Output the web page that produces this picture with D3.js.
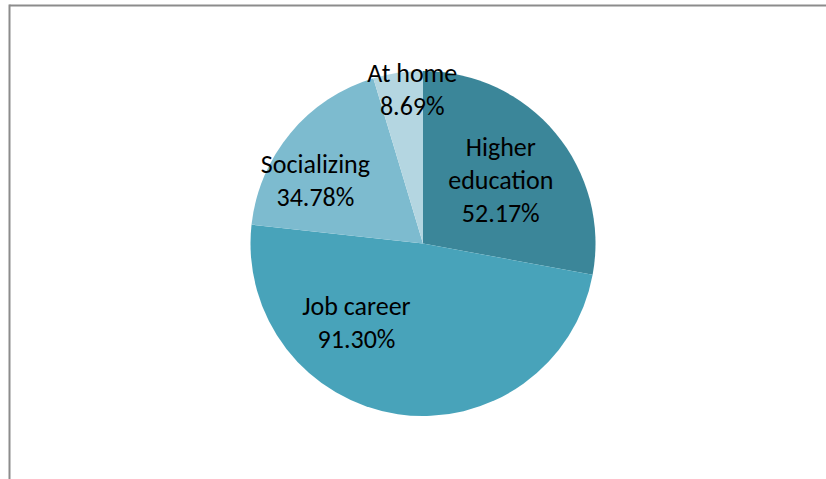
<!DOCTYPE html>
<html>
<head>
<meta charset="utf-8">
<script src="https://cdn.jsdelivr.net/npm/d3@7/dist/d3.min.js"></script>
<style>
  html, body { margin: 0; padding: 0; background: #fff; }
  svg { display: block; }
  text { font-family: Carlito, Calibri, Lato, "Open Sans", sans-serif; }
</style>
</head>
<body>
<svg id="chart" width="826" height="479"></svg>
<script>
// Share of respondents choosing each life goal
const categories = ["Higher education", "Job career", "Socializing", "At home"];
const values = [52.17, 91.30, 34.78, 8.69];
const labelLines = [["Higher", "education"], ["Job career"], ["Socializing"], ["At home"]];
const colors = ["#3b8699", "#48a3ba", "#7dbbcf", "#b4d6e1"];

// Label anchors (angle in degrees clockwise from 12 o'clock, distance as share of radius)
const labelAnchor = [
  { angle: 51, dist: 0.58 },
  { angle: 220, dist: 0.6 },
  { angle: 300, dist: 0.72 },
  { angle: 356, dist: 0.89 }
];

const width = 826, height = 479;
const cx = 423, cy = 243.5, radius = 172.5;

const svg = d3.select("#chart");

// Frame lines along the top and left edges
svg.append("line").attr("x1", 9.5).attr("x2", 826).attr("y1", 5.5).attr("y2", 5.5)
  .attr("stroke", "#8c8c8c").attr("stroke-width", 2);
svg.append("line").attr("x1", 9.5).attr("x2", 9.5).attr("y1", 4.5).attr("y2", height)
  .attr("stroke", "#8c8c8c").attr("stroke-width", 2);

const data = categories.map((c, i) => ({ category: c, value: values[i], index: i }));

const pie = d3.pie().value(d => d.value).sort(null);
const arc = d3.arc().innerRadius(0).outerRadius(radius);
const arcs = pie(data);

const g = svg.append("g").attr("transform", `translate(${cx},${cy})`);

g.selectAll("path.slice")
  .data(arcs)
  .join("path")
  .attr("class", "slice")
  .attr("d", arc)
  .attr("fill", d => colors[d.data.index]);

const fontSize = 26, lineH = 33;
const labels = g.selectAll("g.label")
  .data(arcs)
  .join("g")
  .attr("class", "label")
  .attr("transform", d => {
    const a = labelAnchor[d.data.index];
    const rad = a.angle * Math.PI / 180;
    const r = a.dist * radius;
    return `translate(${r * Math.sin(rad)},${-r * Math.cos(rad)})`;
  });

labels.each(function(d) {
  const lines = labelLines[d.data.index].concat([d3.format(".2f")(d.data.value) + "%"]);
  const t = d3.select(this).append("text")
    .attr("text-anchor", "middle")
    .attr("font-size", fontSize)
    .attr("fill", "#000");
  const y0 = -(lines.length - 1) * lineH / 2;
  lines.forEach((s, k) => {
    t.append("tspan").attr("x", 0).attr("y", y0 + k * lineH).attr("dy", "0.33em").text(s);
  });
});
</script>
</body>
</html>
